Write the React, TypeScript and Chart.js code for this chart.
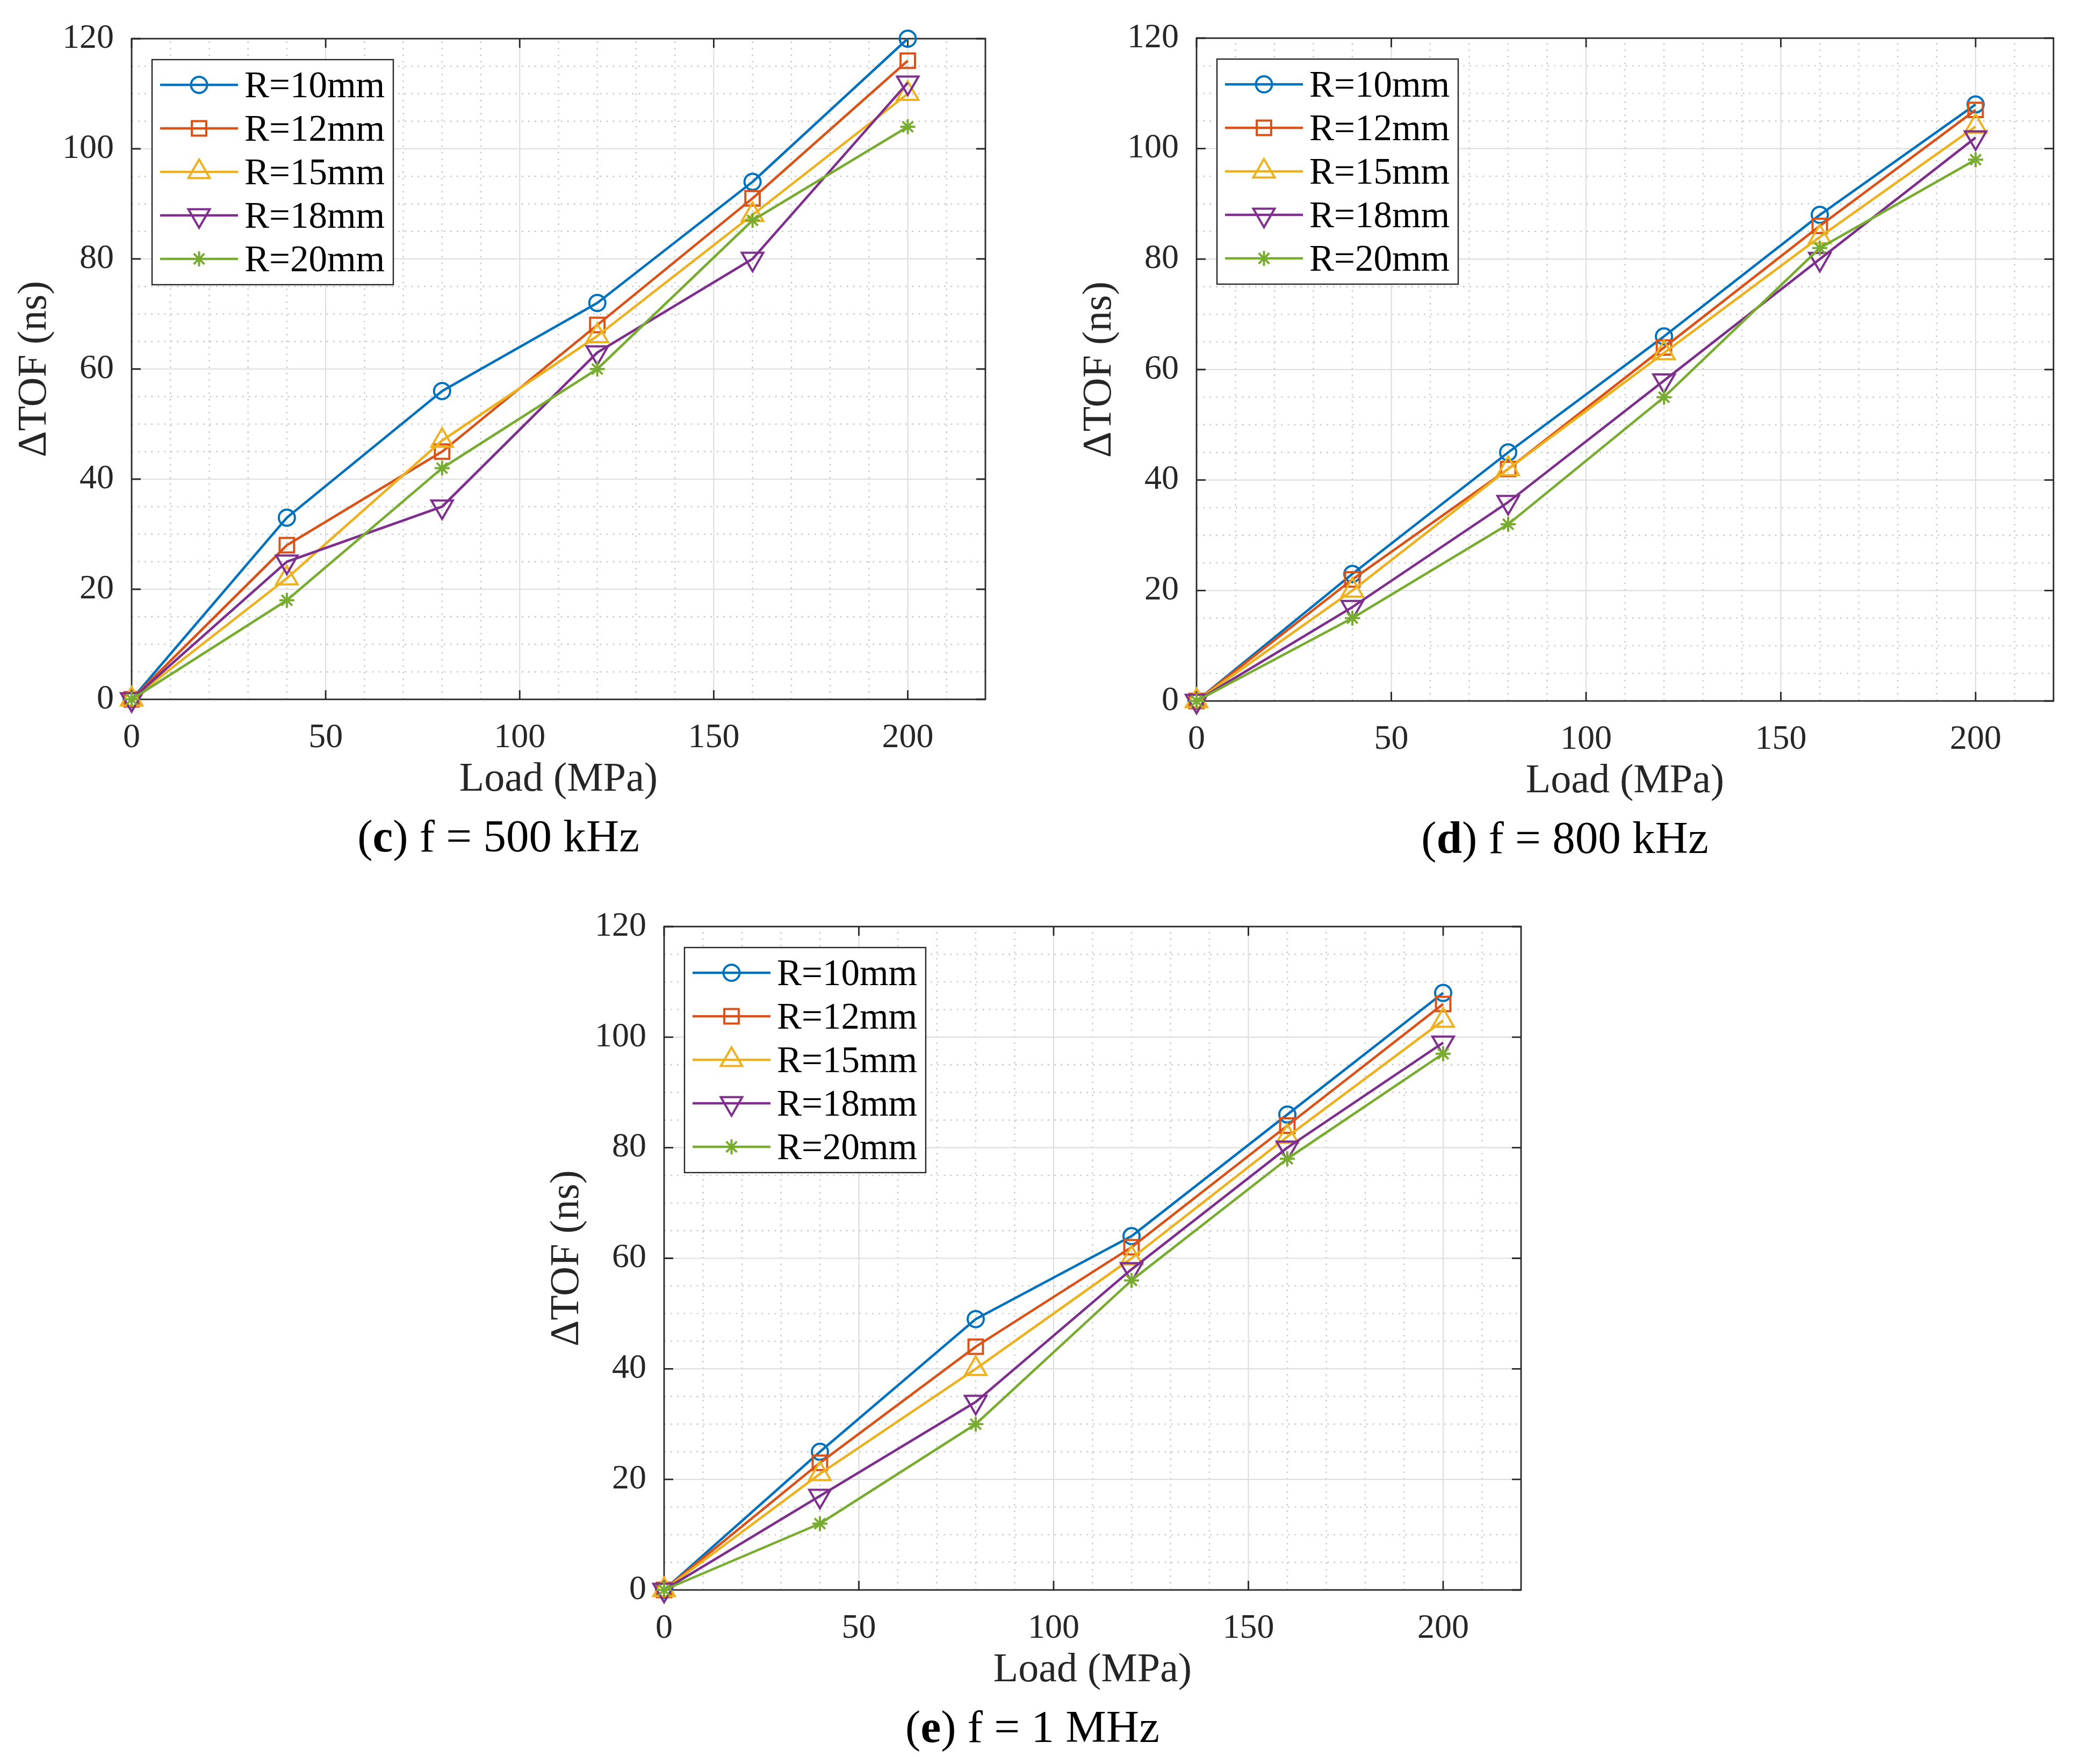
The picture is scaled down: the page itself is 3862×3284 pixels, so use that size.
import React, { useEffect, useRef } from 'react';
import { Chart, registerables } from 'chart.js';
import { drawPoint } from 'chart.js/helpers';

Chart.register(...registerables);

// ---------------- data ----------------
const loadMPa = [0, 40, 80, 120, 160, 200];
const seriesLabels = ['R=10mm', 'R=12mm', 'R=15mm', 'R=18mm', 'R=20mm'];
const xTickValues = [0, 50, 100, 150, 200];
const yTickValues = [0, 20, 40, 60, 80, 100, 120];
const xTitle = 'Load (MPa)';
const yTitle = 'ΔTOF (ns)';

const f500_R10 = [0, 33, 56, 72, 94, 120];
const f500_R12 = [0, 28, 45, 68, 91, 116];
const f500_R15 = [0, 22, 47, 66, 88, 110];
const f500_R18 = [0, 25, 35, 63, 80, 112];
const f500_R20 = [0, 18, 42, 60, 87, 104];

const f800_R10 = [0, 23, 45, 66, 88, 108];
const f800_R12 = [0, 22, 42, 64, 86, 107];
const f800_R15 = [0, 20, 42, 63, 84, 104];
const f800_R18 = [0, 17, 36, 58, 80, 102];
const f800_R20 = [0, 15, 32, 55, 82, 98];

const f1M_R10 = [0, 25, 49, 64, 86, 108];
const f1M_R12 = [0, 23, 44, 62, 84, 106];
const f1M_R15 = [0, 21, 40, 60, 82, 103];
const f1M_R18 = [0, 17, 34, 58, 80, 99];
const f1M_R20 = [0, 12, 30, 56, 78, 97];

// ---------------- style ----------------
const colors = ['#0072BD', '#D95319', '#EDB120', '#7E2F8E', '#77AC30'];
const markerStyles: any[] = [
  { pointStyle: 'circle', radius: 15, rotation: 0 },
  { pointStyle: 'rect', radius: 19, rotation: 0 },
  { pointStyle: 'triangle', radius: 23, rotation: 0 },
  { pointStyle: 'triangle', radius: 23, rotation: 180 },
  { pointStyle: 'star', radius: 14, rotation: 0 },
];
const LINE_W = 4.6;
const MARKER_W = 4;
const X_MIN = 0, X_MAX = 220, X_MINOR = 10;
const Y_MIN = 0, Y_MAX = 120, Y_MINOR = 5;
const FONT = '"Liberation Serif", "Times New Roman", serif';
const AXIS_COLOR = '#262626';

const AXIS_W = 245;
const TOP_PAD = 72;
const RIGHT_PAD = 40;
const BOTTOM_SPACE = 220;

type Panel = {
  key: string;
  letter: string;
  rest: string;
  series: number[][];
  plotLeft: number;
  plotTop: number;
  plotRight: number;
  plotBottom: number;
};

const panels: Panel[] = [
  {
    key: 'c', letter: 'c', rest: ' f = 500 kHz',
    series: [f500_R10, f500_R12, f500_R15, f500_R18, f500_R20],
    plotLeft: 245, plotTop: 72, plotRight: 1834, plotBottom: 1302,
  },
  {
    key: 'd', letter: 'd', rest: ' f = 800 kHz',
    series: [f800_R10, f800_R12, f800_R15, f800_R18, f800_R20],
    plotLeft: 2227, plotTop: 71, plotRight: 3822, plotBottom: 1305,
  },
  {
    key: 'e', letter: 'e', rest: ' f = 1 MHz',
    series: [f1M_R10, f1M_R12, f1M_R15, f1M_R18, f1M_R20],
    plotLeft: 1236, plotTop: 1725, plotRight: 2831, plotBottom: 2960,
  },
];

const matlabAxes = {
  id: 'matlabAxes',
  beforeDatasetsDraw(chart: any) {
    const { ctx, chartArea, scales } = chart;
    const { left, right, top, bottom } = chartArea;
    const xs = scales.x;
    const ys = scales.y;
    ctx.save();
    ctx.lineCap = 'butt';
    // minor dotted grid
    ctx.strokeStyle = '#c6c6c6';
    ctx.lineWidth = 2.4;
    ctx.setLineDash([2.8, 9.3]);
    for (let v = X_MIN + X_MINOR; v < X_MAX; v += X_MINOR) {
      if (xTickValues.includes(v)) continue;
      const px = xs.getPixelForValue(v);
      ctx.beginPath();
      ctx.moveTo(px, bottom);
      ctx.lineTo(px, top);
      ctx.stroke();
    }
    for (let v = Y_MIN + Y_MINOR; v < Y_MAX; v += Y_MINOR) {
      if (yTickValues.includes(v)) continue;
      const py = ys.getPixelForValue(v);
      ctx.beginPath();
      ctx.moveTo(left, py);
      ctx.lineTo(right, py);
      ctx.stroke();
    }
    // major solid grid
    ctx.setLineDash([]);
    ctx.strokeStyle = '#dedede';
    ctx.lineWidth = 2.2;
    xTickValues.forEach((v) => {
      if (v === X_MIN) return;
      const px = xs.getPixelForValue(v);
      ctx.beginPath();
      ctx.moveTo(px, bottom);
      ctx.lineTo(px, top);
      ctx.stroke();
    });
    yTickValues.forEach((v) => {
      if (v === Y_MIN || v === Y_MAX) return;
      const py = ys.getPixelForValue(v);
      ctx.beginPath();
      ctx.moveTo(left, py);
      ctx.lineTo(right, py);
      ctx.stroke();
    });
    // box
    ctx.strokeStyle = AXIS_COLOR;
    ctx.lineWidth = 2.8;
    ctx.strokeRect(left, top, right - left, bottom - top);
    // inward ticks
    const tl = 17;
    ctx.beginPath();
    xTickValues.forEach((v) => {
      const px = xs.getPixelForValue(v);
      ctx.moveTo(px, bottom);
      ctx.lineTo(px, bottom - tl);
      ctx.moveTo(px, top);
      ctx.lineTo(px, top + tl);
    });
    yTickValues.forEach((v) => {
      const py = ys.getPixelForValue(v);
      ctx.moveTo(left, py);
      ctx.lineTo(left + tl, py);
      ctx.moveTo(right, py);
      ctx.lineTo(right - tl, py);
    });
    ctx.stroke();
    ctx.restore();
  },
  afterDatasetsDraw(chart: any) {
    const { ctx, chartArea } = chart;
    const { left, top } = chartArea;
    ctx.save();
    const lx = left + 38, ly = top + 39, lw = 449, lh = 419;
    ctx.fillStyle = '#ffffff';
    ctx.fillRect(lx, ly, lw, lh);
    ctx.strokeStyle = AXIS_COLOR;
    ctx.lineWidth = 2.4;
    ctx.setLineDash([]);
    ctx.strokeRect(lx, ly, lw, lh);
    chart.data.datasets.forEach((ds: any, i: number) => {
      const cy = top + 86 + i * 81;
      ctx.strokeStyle = ds.borderColor;
      ctx.lineWidth = ds.borderWidth;
      ctx.beginPath();
      ctx.moveTo(left + 53, cy);
      ctx.lineTo(left + 198, cy);
      ctx.stroke();
      ctx.fillStyle = 'rgba(255,255,255,0)';
      ctx.lineWidth = ds.pointBorderWidth;
      drawPoint(ctx, {
        pointStyle: ds.pointStyle,
        rotation: ds.pointRotation || 0,
        radius: ds.pointRadius,
        borderWidth: ds.pointBorderWidth,
      } as any, left + 125.5, cy);
      ctx.fillStyle = '#000000';
      ctx.font = `69px ${FONT}`;
      ctx.textAlign = 'left';
      ctx.textBaseline = 'alphabetic';
      ctx.fillText(ds.label, left + 210, cy + 23);
    });
    ctx.restore();
  },
};

function ChartPanel({ panel }: { panel: Panel }) {
  const ref = useRef<HTMLCanvasElement | null>(null);
  const plotW = panel.plotRight - panel.plotLeft;
  const plotH = panel.plotBottom - panel.plotTop;
  const cw = AXIS_W + plotW + RIGHT_PAD;
  const ch = TOP_PAD + plotH + BOTTOM_SPACE;
  const cLeft = panel.plotLeft - AXIS_W;
  const cTop = panel.plotTop - TOP_PAD;

  useEffect(() => {
    if (!ref.current) return;
    const datasets = panel.series.map((vals, i) => ({
      label: seriesLabels[i],
      data: loadMPa.map((x, j) => ({ x, y: vals[j] })),
      borderColor: colors[i],
      backgroundColor: 'rgba(0,0,0,0)',
      borderWidth: LINE_W,
      borderJoinStyle: 'round',
      pointStyle: markerStyles[i].pointStyle,
      pointRadius: markerStyles[i].radius,
      pointRotation: markerStyles[i].rotation,
      pointBorderWidth: MARKER_W,
      pointBorderColor: colors[i],
      pointBackgroundColor: 'rgba(255,255,255,0)',
      tension: 0,
      clip: false as any,
      order: panel.series.length - 1 - i,
    }));
    const tickFont = { family: FONT, size: 64, lineHeight: 1.2 };
    const titleFont = { family: FONT, size: 76, lineHeight: 1.2 };
    const chart = new Chart(ref.current, {
      type: 'line',
      data: { datasets: datasets as any },
      options: {
        animation: false,
        responsive: false,
        devicePixelRatio: 1,
        events: [],
        layout: { padding: { left: 0, top: TOP_PAD, right: RIGHT_PAD, bottom: 0 } },
        plugins: { legend: { display: false }, tooltip: { enabled: false }, title: { display: false } },
        scales: {
          x: {
            type: 'linear',
            min: X_MIN,
            max: X_MAX,
            grid: { display: false },
            border: { display: false },
            ticks: { font: tickFont, color: AXIS_COLOR, padding: 26, maxRotation: 0, autoSkip: false },
            title: { display: true, text: xTitle, font: titleFont, color: AXIS_COLOR, padding: { top: 0, bottom: 24.4 } },
            afterBuildTicks: (s: any) => { s.ticks = xTickValues.map((v) => ({ value: v })); },
            afterFit: (s: any) => { s.height = ch - (TOP_PAD + plotH); },
          },
          y: {
            type: 'linear',
            min: Y_MIN,
            max: Y_MAX,
            grid: { display: false },
            border: { display: false },
            ticks: { font: tickFont, color: AXIS_COLOR, padding: 25, autoSkip: false },
            title: { display: true, text: yTitle, font: titleFont, color: AXIS_COLOR, padding: { top: 19.4, bottom: 0 } },
            afterBuildTicks: (s: any) => { s.ticks = yTickValues.map((v) => ({ value: v })); },
            afterFit: (s: any) => { s.width = AXIS_W; },
          },
        },
      } as any,
      plugins: [matlabAxes as any],
    });
    return () => chart.destroy();
  }, [panel]);

  const capCx = (panel.plotLeft + panel.plotRight) / 2 - 112;
  const capBaseline = panel.plotBottom + 283;

  return (
    <>
      <canvas
        ref={ref}
        width={cw}
        height={ch}
        style={{ position: 'absolute', left: cLeft, top: cTop, width: cw, height: ch }}
      />
      <div
        style={{
          position: 'absolute',
          left: capCx - 1000,
          top: capBaseline - 71,
          width: 2000,
          textAlign: 'center',
          fontFamily: FONT,
          fontSize: 85,
          lineHeight: '85px',
          color: '#000',
          whiteSpace: 'pre',
        }}
      >
        (<b>{panel.letter}</b>){panel.rest}
      </div>
    </>
  );
}

export default function App() {
  return (
    <div
      style={{
        position: 'absolute',
        left: 0,
        top: 0,
        width: 3862,
        height: 3284,
        background: '#ffffff',
        overflow: 'hidden',
      }}
    >
      {panels.map((p) => (
        <ChartPanel key={p.key} panel={p} />
      ))}
    </div>
  );
}
